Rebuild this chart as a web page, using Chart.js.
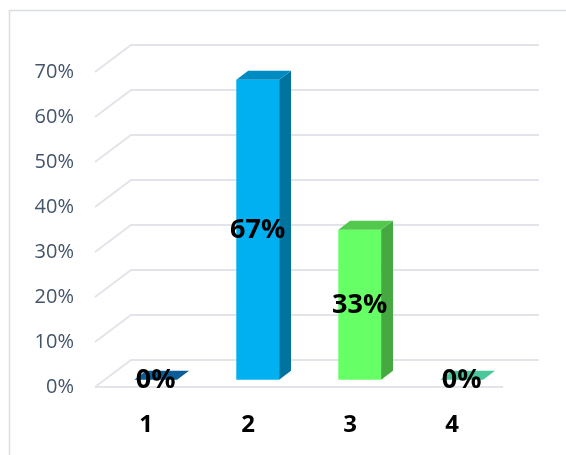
<!DOCTYPE html>
<html>
<head>
<meta charset="utf-8">
<script src="https://cdn.jsdelivr.net/npm/chart.js@4.4.1/dist/chart.umd.min.js"></script>
<style>
    html, body { margin: 0; padding: 0; background: #ffffff; }
    #wrap { width: 566px; height: 455px; }
</style>
</head>
<body>
<div id="wrap"><canvas id="chart" width="566" height="455"></canvas></div>
<script>
const categories = ['1', '2', '3', '4'];
const shares = [0, 66.67, 33.33, 0];
const shareLabels = ['0%', '67%', '33%', '0%'];
const yTicks = [0, 10, 20, 30, 40, 50, 60, 70];

const frontColors = ['#0b5c94', '#00b0f0', '#66ff66', '#4dc79a'];
const sideColors = ['#08446e', '#00739e', '#46a841', '#369f79'];
const topColors = ['#0d5e97', '#008cc2', '#52c94e', '#4cc69b'];

// depth of the floor and where the bars sit inside it
const DEPTH_X = 36;
const DEPTH_Y = 27;
const F0 = 0.27;
const F1 = 0.6;

const gridColor = '#e2e4e9';

const depthPlugin = {
    id: 'depth',
    beforeDraw(chart) {
        const ctx = chart.ctx;
        ctx.save();
        ctx.strokeStyle = '#dadde2';
        ctx.lineWidth = 1.5;
        ctx.strokeRect(9.5, 10.5, 700, 600);
        ctx.restore();
    },
    beforeDatasetsDraw(chart) {
        const ctx = chart.ctx;
        const area = chart.chartArea;
        const y = chart.scales.y;
        ctx.save();
        ctx.strokeStyle = gridColor;
        ctx.lineWidth = 2;
        yTicks.forEach(t => {
            const py = y.getPixelForValue(t);
            ctx.beginPath();
            ctx.moveTo(area.left, py);
            ctx.lineTo(area.left + DEPTH_X, py - DEPTH_Y);
            ctx.lineTo(area.right + DEPTH_X, py - DEPTH_Y);
            ctx.stroke();
        });
        // front edge of the floor
        const p0 = y.getPixelForValue(0);
        ctx.beginPath();
        ctx.moveTo(area.left, p0);
        ctx.lineTo(area.right, p0);
        ctx.stroke();
        ctx.restore();

        ctx.save();
        ctx.translate(DEPTH_X * F0, -DEPTH_Y * F0);
    },
    afterDatasetsDraw(chart) {
        const ctx = chart.ctx;
        const sx = DEPTH_X * (F1 - F0);
        const sy = DEPTH_Y * (F1 - F0);
        const bars = chart.getDatasetMeta(0).data;
        bars.forEach((bar, i) => {
            const left = bar.x - bar.width / 2;
            const right = bar.x + bar.width / 2;
            const top = Math.min(bar.y, bar.base);
            const base = Math.max(bar.y, bar.base);
            ctx.fillStyle = sideColors[i];
            ctx.beginPath();
            ctx.moveTo(right, top);
            ctx.lineTo(right + sx, top - sy);
            ctx.lineTo(right + sx, base - sy);
            ctx.lineTo(right, base);
            ctx.closePath();
            ctx.fill();
            ctx.fillStyle = topColors[i];
            ctx.beginPath();
            ctx.moveTo(left, top);
            ctx.lineTo(left + sx, top - sy);
            ctx.lineTo(right + sx, top - sy);
            ctx.lineTo(right, top);
            ctx.closePath();
            ctx.fill();
        });
        ctx.restore();

        ctx.save();
        ctx.fillStyle = '#000000';
        ctx.font = 'bold 27px "Open Sans", sans-serif';
        ctx.textAlign = 'center';
        ctx.textBaseline = 'middle';
        bars.forEach((bar, i) => {
            const cx = bar.x + DEPTH_X * F0;
            const cy = (bar.y + bar.base) / 2 - DEPTH_Y * F0;
            ctx.fillText(shareLabels[i], cx, cy + 1);
        });
        ctx.restore();
    }
};

new Chart(document.getElementById('chart').getContext('2d'), {
    type: 'bar',
    data: {
        labels: categories,
        datasets: [{
            data: shares,
            backgroundColor: frontColors,
            borderWidth: 0,
            barPercentage: 0.42,
            categoryPercentage: 1,
            clip: false
        }]
    },
    options: {
        responsive: false,
        animation: false,
        layout: {
            padding: { left: 0, right: 63, top: 72, bottom: 0 }
        },
        plugins: {
            legend: { display: false },
            tooltip: { enabled: false }
        },
        scales: {
            x: {
                grid: { display: false, drawTicks: false },
                border: { display: false },
                ticks: {
                    color: '#000000',
                    padding: 24,
                    font: { family: '"Open Sans", sans-serif', size: 24, weight: 'bold' }
                },
                afterFit(scale) { scale.height = 68; }
            },
            y: {
                min: 0,
                max: 70,
                grid: { display: false, drawTicks: false },
                border: { display: false },
                afterBuildTicks(scale) {
                    scale.ticks = yTicks.map(v => ({ value: v }));
                },
                ticks: {
                    color: '#44546a',
                    padding: 21,
                    font: { family: '"Open Sans", sans-serif', size: 20 },
                    callback: v => v + '%'
                },
                afterFit(scale) { scale.width = 95; }
            }
        }
    },
    plugins: [depthPlugin]
});
</script>
</body>
</html>
